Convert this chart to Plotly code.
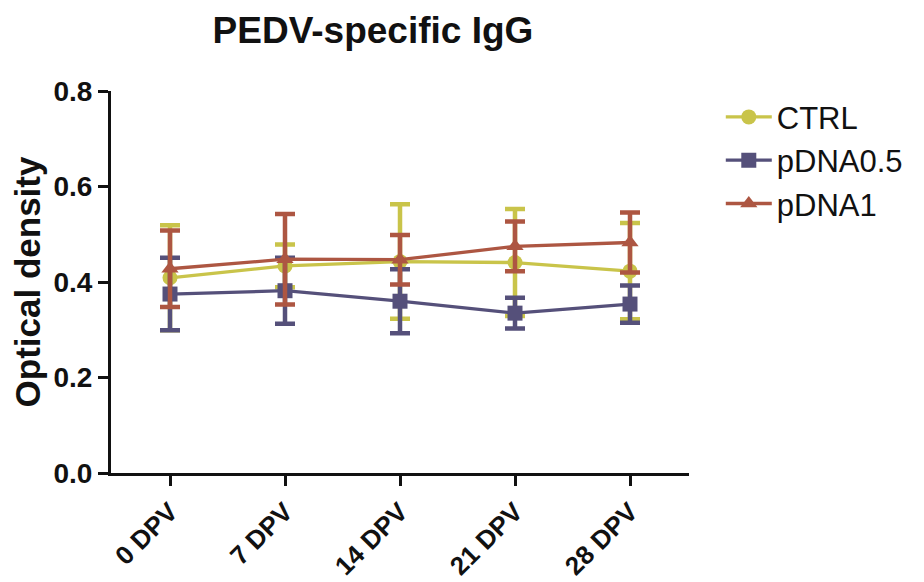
import plotly.graph_objects as go

categories = ["0 DPV", "7 DPV", "14 DPV", "21 DPV", "28 DPV"]
ctrl_mean = [0.409, 0.434, 0.443, 0.441, 0.423]
ctrl_err = [0.110, 0.045, 0.120, 0.112, 0.101]
p05_mean = [0.375, 0.382, 0.360, 0.335, 0.354]
p05_err = [0.076, 0.069, 0.067, 0.032, 0.039]
p1_mean = [0.428, 0.448, 0.447, 0.475, 0.483]
p1_err = [0.080, 0.095, 0.052, 0.052, 0.063]
y_ticks = [0.0, 0.2, 0.4, 0.6, 0.8]

series = [
    ("CTRL", ctrl_mean, ctrl_err, "#C9C44A", "circle"),
    ("pDNA0.5", p05_mean, p05_err, "#55507A", "square"),
    ("pDNA1", p1_mean, p1_err, "#AD5642", "triangle-up"),
]

fig = go.Figure()
xs = list(range(len(categories)))
for name, m, e, col, sym in series:
    fig.add_trace(go.Scatter(
        x=xs, y=m, name=name, mode="lines+markers",
        line=dict(color=col, width=3.3),
        marker=dict(symbol=sym, size=15, color=col),
        error_y=dict(type="data", array=e, visible=True, color=col,
                     thickness=4.5, width=10),
    ))

fig.update_layout(
    width=924, height=582,
    margin=dict(l=103, r=243, t=83, b=117, autoexpand=False),
    paper_bgcolor="white", plot_bgcolor="white",
    font=dict(family="Liberation Sans, Arial, sans-serif", color="#111111"),
    title=dict(text="<b>PEDV-specific IgG</b>", x=0.395, xanchor="center",
               y=0.962, yanchor="middle", font=dict(size=37)),
    showlegend=True,
    legend=dict(x=1.055, y=1.002, xanchor="left", yanchor="top",
                font=dict(size=31), itemwidth=46,
                bgcolor="rgba(0,0,0,0)"),
    xaxis=dict(range=[-0.513, 4.513], tickmode="array", tickvals=xs,
               ticktext=["<b>%s</b>" % c for c in categories],
               tickangle=-45, tickfont=dict(size=26),
               showline=True, linecolor="#111111", linewidth=3,
               ticks="outside", ticklen=10, tickwidth=3, tickcolor="#111111",
               showgrid=False, zeroline=False),
    yaxis=dict(range=[0, 0.8005], tickmode="array", tickvals=y_ticks,
               ticktext=["<b>%.1f</b>" % v for v in y_ticks],
               tickfont=dict(size=28),
               title=dict(text="<b>Optical density</b>", font=dict(size=35), standoff=10),
               showline=True, linecolor="#111111", linewidth=3,
               ticks="outside", ticklen=10, tickwidth=3, tickcolor="#111111",
               showgrid=False, zeroline=False),
)

fig.write_html("out.html")
